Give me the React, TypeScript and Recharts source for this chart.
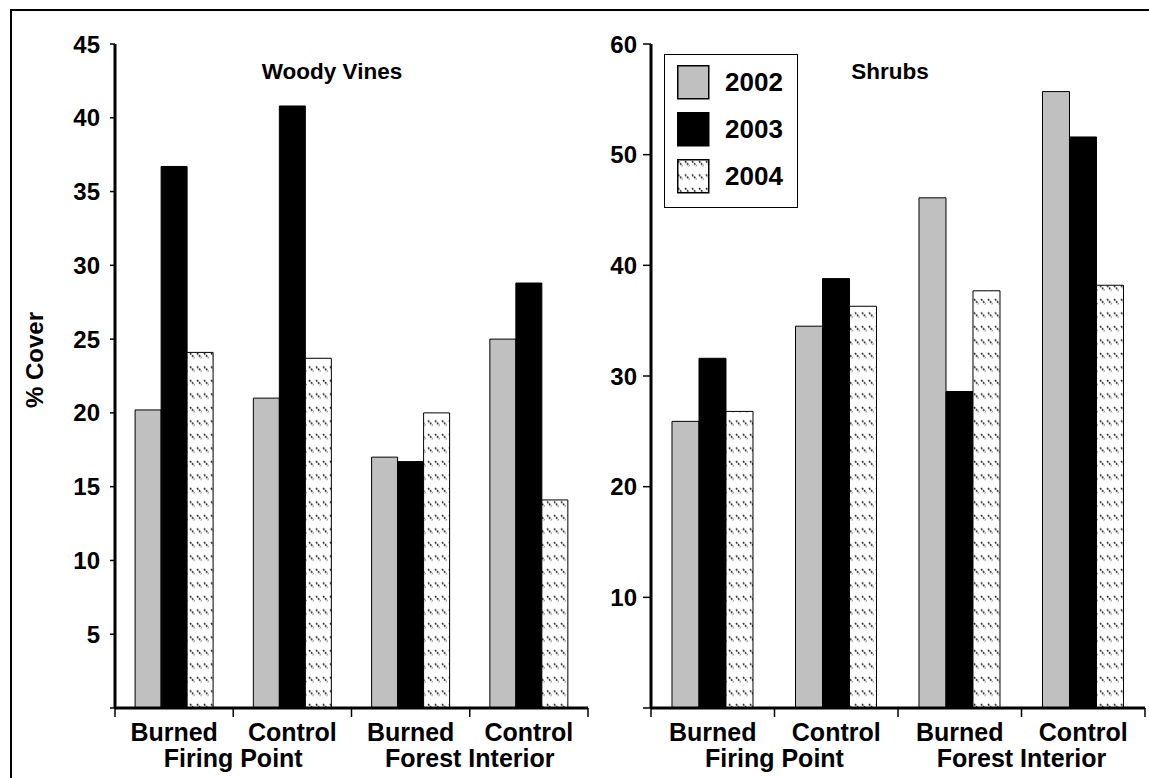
import React from "react";
import { BarChart, Bar, XAxis, YAxis, Legend } from "recharts";

// categories
const sites = ["BFP", "CFP", "BFI", "CFI"];
const treatments = ["Burned", "Control", "Burned", "Control"];
const locations = ["Firing Point", "Forest Interior"];
const years = ["2002", "2003", "2004"];

// woody vines % cover
const vines2002 = [20.2, 21.0, 17.0, 25.0];
const vines2003 = [36.7, 40.8, 16.7, 28.8];
const vines2004 = [24.1, 23.7, 20.0, 14.1];

// shrubs % cover
const shrubs2002 = [25.9, 34.5, 46.1, 55.7];
const shrubs2003 = [31.6, 38.8, 28.6, 51.6];
const shrubs2004 = [26.8, 36.3, 37.7, 38.2];

const vineTicks = [0, 5, 10, 15, 20, 25, 30, 35, 40, 45];
const shrubTicks = [0, 10, 20, 30, 40, 50, 60];

const FONT = '"Liberation Sans", Arial, sans-serif';
const GRAY = "#c0c0c0";

const buildData = (a: number[], b: number[], c: number[]) =>
  sites.map((site, i) => ({ site, y2002: a[i], y2003: b[i], y2004: c[i] }));

const vinesData = buildData(vines2002, vines2003, vines2004);
const shrubsData = buildData(shrubs2002, shrubs2003, shrubs2004);

const Hatch = ({ id }: { id: string }) => (
  <defs>
    <pattern id={id} patternUnits="userSpaceOnUse" width={7} height={13.5}>
      <rect width={7} height={13.5} fill="#fff" />
      <line x1={1} y1={2} x2={5.5} y2={7} stroke="#333" strokeWidth={1.6} strokeDasharray="2 1" />
    </pattern>
  </defs>
);

// x tick: treatment name, group name under each pair, tick marks at category edges
const makeTick = (band: number) => (props: any) => {
  const { x, y, payload } = props;
  const i = sites.indexOf(payload.value);
  const txt = { fontFamily: FONT, fontWeight: 700, fontSize: 25, fill: "#000", textAnchor: "middle" as const };
  return (
    <g>
      <line x1={x - band / 2} x2={x - band / 2} y1={y} y2={y + 9} stroke="#000" strokeWidth={1.5} />
      {i === sites.length - 1 && (
        <line x1={x + band / 2} x2={x + band / 2} y1={y} y2={y + 9} stroke="#000" strokeWidth={1.5} />
      )}
      <text x={x} y={y + 33} {...txt}>{treatments[i]}</text>
      {i % 2 === 0 && (
        <text x={x + band / 2} y={y + 59} {...txt}>{locations[i / 2]}</text>
      )}
    </g>
  );
};

const LegendBox = () => (
  <div
    style={{
      width: 134,
      height: 154,
      border: "1.5px solid #000",
      boxSizing: "border-box",
      background: "#fff",
      fontFamily: FONT,
      fontWeight: 700,
      fontSize: 26,
      position: "relative",
    }}
  >
    {years.map((yr, i) => (
      <div key={yr} style={{ position: "absolute", left: 12, top: 10 + i * 47, display: "flex", alignItems: "center" }}>
        <svg width={33} height={35}>
          {i === 2 && <Hatch id="hatchLegend" />}
          <rect
            x={0.75}
            y={0.75}
            width={31}
            height={33}
            fill={i === 0 ? GRAY : i === 1 ? "#000" : "url(#hatchLegend)"}
            stroke="#000"
            strokeWidth={1.5}
          />
        </svg>
        <span style={{ marginLeft: 15 }}>{yr}</span>
      </div>
    ))}
  </div>
);

interface PanelProps {
  data: typeof vinesData;
  width: number;
  left: number;
  marginLeft: number;
  marginRight: number;
  ticks: number[];
  tickSize: number;
  tickMargin: number;
  hatchId: string;
  legend?: boolean;
}

function Panel(p: PanelProps) {
  const height = 778;
  const yAxisWidth = 60;
  const plotWidth = p.width - p.marginLeft - p.marginRight - yAxisWidth;
  const band = plotWidth / sites.length;
  const max = p.ticks[p.ticks.length - 1];
  const border = { stroke: "#000", strokeWidth: 2 };
  return (
    <div style={{ position: "absolute", left: p.left, top: 0 }}>
      <BarChart
        width={p.width}
        height={height}
        data={p.data}
        margin={{ top: 44, right: p.marginRight, left: p.marginLeft, bottom: 0 }}
        barCategoryGap="17%"
        barGap={0}
      >
        <Hatch id={p.hatchId} />
        <XAxis
          dataKey="site"
          height={70}
          tickSize={0}
          tickMargin={0}
          axisLine={{ stroke: "#000", strokeWidth: 3 }}
          tick={makeTick(band)}
          interval={0}
        />
        <XAxis xAxisId="top" orientation="top" dataKey="site" height={0} tick={false} tickLine={false} axisLine={border} />
        <YAxis
          width={yAxisWidth}
          domain={[0, max]}
          ticks={p.ticks}
          interval={0}
          tickSize={p.tickSize}
          tickMargin={p.tickMargin}
          tickFormatter={(v: number) => (v === 0 ? "" : String(v))}
          tick={{ fill: "#000", fontSize: 24, fontWeight: 700, fontFamily: FONT }}
          tickLine={{ stroke: "#000", strokeWidth: 1.5 }}
          axisLine={{ stroke: "#000", strokeWidth: 3 }}
        />
        <YAxis yAxisId="right" orientation="right" width={0} domain={[0, max]} tick={false} tickLine={false} axisLine={border} />
        {p.legend && (
          <Legend
            layout="vertical"
            verticalAlign="middle"
            align="center"
            content={() => <LegendBox />}
            wrapperStyle={{ top: 54, left: 104, width: 134, height: 154 }}
          />
        )}
        <Bar dataKey="y2002" name="2002" fill={GRAY} stroke="#000" strokeWidth={1} isAnimationActive={false} />
        <Bar dataKey="y2003" name="2003" fill="#000" stroke="#000" strokeWidth={1} isAnimationActive={false} />
        <Bar dataKey="y2004" name="2004" fill={`url(#${p.hatchId})`} stroke="#000" strokeWidth={1} isAnimationActive={false} />
      </BarChart>
    </div>
  );
}

const titleStyle: React.CSSProperties = {
  position: "absolute",
  fontFamily: FONT,
  fontWeight: 700,
  fontSize: 22.5,
  transform: "translate(-50%, -50%)",
  whiteSpace: "nowrap",
};

export default function App() {
  return (
    <div style={{ position: "fixed", left: 0, top: 0, width: 1149, height: 778, overflow: "hidden", background: "#fff" }}>
      <div
        style={{
          position: "absolute",
          left: 10,
          top: 9,
          width: 1160,
          height: 800,
          border: "2px solid #000",
          boxSizing: "border-box",
        }}
      />
      <Panel
        data={vinesData}
        width={600}
        left={0}
        marginLeft={55}
        marginRight={12}
        ticks={vineTicks}
        tickSize={5}
        tickMargin={10}
        hatchId="hatchVines"
      />
      <Panel
        data={shrubsData}
        width={589}
        left={560}
        marginLeft={31}
        marginRight={4}
        ticks={shrubTicks}
        tickSize={8}
        tickMargin={6}
        hatchId="hatchShrubs"
        legend
      />
      <div style={{ ...titleStyle, left: 332, top: 72 }}>Woody Vines</div>
      <div style={{ ...titleStyle, left: 890, top: 72 }}>Shrubs</div>
      <div style={{ ...titleStyle, fontSize: 24, left: 35, top: 360, transform: "translate(-50%, -50%) rotate(-90deg)" }}>
        % Cover
      </div>
    </div>
  );
}
